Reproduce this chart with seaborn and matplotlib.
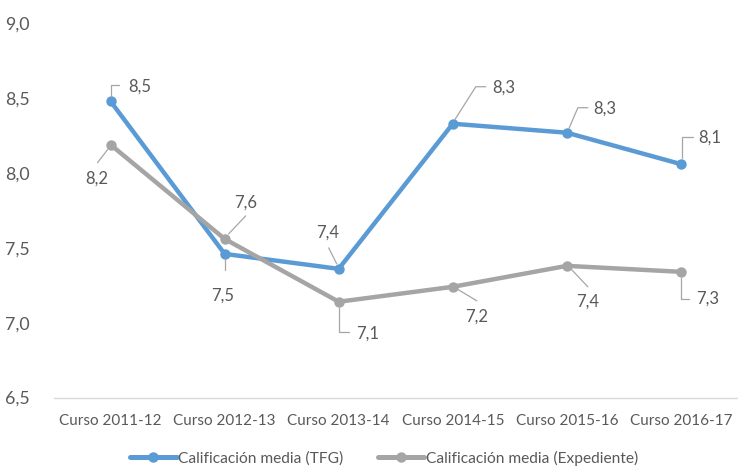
import matplotlib
matplotlib.use("Agg")
import matplotlib.pyplot as plt
import seaborn as sns
import pandas as pd
from matplotlib.lines import Line2D
from matplotlib.transforms import IdentityTransform

categories = ["Curso 2011-12", "Curso 2012-13", "Curso 2013-14",
              "Curso 2014-15", "Curso 2015-16", "Curso 2016-17"]
tfg = [8.48, 7.46, 7.36, 8.33, 8.27, 8.06]
expediente = [8.19, 7.56, 7.14, 7.24, 7.38, 7.34]
series_names = ["Calificación media (TFG)", "Calificación media (Expediente)"]
y_ticks = [6.5, 7.0, 7.5, 8.0, 8.5, 9.0]

colors = ["#5B9BD5", "#A5A5A5"]
text_color = "#595959"

sns.set_theme(style="white")
plt.rcParams["font.family"] = ["Lato", "DejaVu Sans"]

df = pd.DataFrame({
    "curso": categories * 2,
    "valor": tfg + expediente,
    "serie": [series_names[0]] * len(categories) + [series_names[1]] * len(categories),
})

fig = plt.figure(figsize=(7.38, 4.67), dpi=100)
ax = fig.add_axes([53.5 / 738, 1 - 397.5 / 467, 1 - 53.5 / 738, (397.5 - 23.5) / 467])

sns.lineplot(data=df, x="curso", y="valor", hue="serie", palette=colors,
             marker="o", markersize=7.5, markeredgewidth=0, linewidth=3.2,
             sort=False, ax=ax, legend=False)

ax.set_xlim(-0.5, 5.5)
ax.set_ylim(6.5, 9.0)
ax.set_yticks(y_ticks)
ax.set_yticklabels([f"{v:.1f}".replace(".", ",") for v in y_ticks])
ax.set_xlabel("")
ax.set_ylabel("")
for s in ["top", "right", "left"]:
    ax.spines[s].set_visible(False)
ax.spines["bottom"].set_color("#D9D9D9")
ax.spines["bottom"].set_linewidth(1.0)
ax.tick_params(axis="both", length=0, colors=text_color)
ax.tick_params(axis="y", pad=17, labelsize=12.8)
ax.tick_params(axis="x", pad=12, labelsize=11)
ax.grid(False)

# data labels with leader lines (pixel offsets, y downward)
tfg_leaders = [
    ([(0, -5), (0, -16), (8, -16)], (29, -15)),
    ([(0, 5), (0, 16)], (-2, 42)),
    ([(-2, -5), (-10, -21)], (-11, -36)),
    ([(2, -4), (23, -37), (33, -37)], (51, -36)),
    ([(2, -4), (11, -25), (21, -25)], (38, -24)),
    ([(1, -6), (1, -27), (12, -27)], (29, -26)),
]
exp_leaders = [
    ([(-3, 5), (-13, 18)], (-14, 34)),
    ([(4, -5), (21, -23)], (21, -36)),
    ([(0, 6), (0, 30), (10, 30)], (29, 32)),
    ([(4, 2), (24, 14)], (24, 30)),
    ([(4, 3), (21, 21)], (21, 36)),
    ([(0, 6), (0, 27), (8, 27)], (27, 27)),
]

fig.canvas.draw()
for values, leaders in [(tfg, tfg_leaders), (expediente, exp_leaders)]:
    for i, (v, (path, toff)) in enumerate(zip(values, leaders)):
        px, py = ax.transData.transform((i, v))
        xs = [px + dx for dx, dy in path]
        ys = [py - dy for dx, dy in path]
        fig.add_artist(Line2D(xs, ys, transform=IdentityTransform(),
                              color="#A6A6A6", linewidth=0.9))
        fig.text(px + toff[0], py - toff[1], f"{v:.1f}".replace(".", ","),
                 transform=IdentityTransform(), ha="center", va="center",
                 fontsize=12, color=text_color)

handles = [Line2D([], [], color=c, linewidth=3.6, marker="o", markersize=7.5,
                  markeredgewidth=0) for c in colors]
fig.legend(handles, series_names, loc="center", bbox_to_anchor=(384 / 738, 1 - 458 / 467),
           ncol=2, frameon=False, fontsize=11.2, labelcolor=text_color,
           handlelength=3.0, handletextpad=0.1, columnspacing=2.2)

fig.savefig("out.png", dpi=100)
